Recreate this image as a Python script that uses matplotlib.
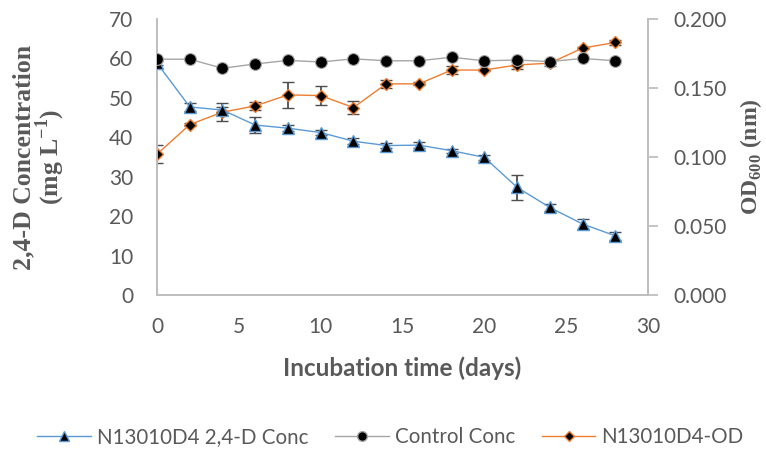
import numpy as np
import matplotlib.pyplot as plt

days = [0, 2, 4, 6, 8, 10, 12, 14, 16, 18, 20, 22, 24, 26, 28]
conc = [58.8, 47.7, 46.9, 43.1, 42.3, 41.2, 39.0, 37.9, 38.0, 36.6, 34.9, 27.3, 22.2, 18.0, 15.0]
conc_err = [0.5, 1.0, 0.8, 2.0, 0.8, 0.6, 0.7, 0.6, 0.7, 0.5, 0.6, 3.2, 0.9, 1.2, 1.0]
control = [59.8, 59.8, 57.5, 58.6, 59.5, 59.1, 59.9, 59.4, 59.4, 60.3, 59.4, 59.6, 59.2, 60.0, 59.4]
od = [0.102, 0.1235, 0.1325, 0.137, 0.145, 0.1445, 0.1358, 0.153, 0.153, 0.163, 0.163, 0.1667, 0.168, 0.1789, 0.183]
od_err = [0.0064, 0.001, 0.0065, 0.003, 0.0093, 0.0066, 0.005, 0.003, 0.001, 0.003, 0.001, 0.003, 0.002, 0.001, 0.002]

plt.rcParams['font.family'] = ['Lato', 'DejaVu Sans']
plt.rcParams['mathtext.fontset'] = 'custom'
plt.rcParams['mathtext.rm'] = 'Liberation Serif:bold'
plt.rcParams['mathtext.bf'] = 'Liberation Serif:bold'

grey_txt = '#595959'
spine_c = '#BFBFBF'
err_c = '#4D4D4D'

fig = plt.figure(figsize=(7.66, 4.58), dpi=100)
ax = fig.add_axes([0.205, 0.356, 0.641, 0.6025])
ax2 = ax.twinx()

ax.errorbar(days, conc, yerr=conc_err, color='#5B9BD5', lw=1, marker='^', ms=8,
            mfc='black', mec='#5B9BD5', mew=1, ecolor=err_c, elinewidth=1.3,
            capsize=4, capthick=1.3, zorder=3)
l1, = ax.plot([], [], color='#5B9BD5', lw=1, marker='^', ms=7, mfc='black', mec='#5B9BD5')
ax.plot(days, control, color='#A5A5A5', lw=1, marker='o', ms=8.5, mfc='black',
        mec='#A5A5A5', mew=0.8, zorder=4)
l2, = ax.plot([], [], color='#A5A5A5', lw=1, marker='o', ms=7, mfc='black', mec='#A5A5A5')
ax2.errorbar(days, od, yerr=od_err, color='#ED7D31', lw=1, marker='D', ms=6.5,
             mfc='black', mec='#ED7D31', mew=1, ecolor=err_c, elinewidth=1.3,
             capsize=4, capthick=1.3, zorder=3)
l3, = ax2.plot([], [], color='#ED7D31', lw=1, marker='D', ms=5.5, mfc='black', mec='#ED7D31')

ax.set_xlim(0, 30)
ax.set_ylim(0, 70)
ax2.set_ylim(0, 0.2)
ax.set_xticks(np.arange(0, 31, 5))
ax.set_yticks(np.arange(0, 71, 10))
ax2.set_yticks(np.arange(0, 0.201, 0.05))
ax2.set_yticklabels(['%.3f' % v for v in np.arange(0, 0.201, 0.05)])

for a in (ax, ax2):
    a.spines['top'].set_visible(False)
    for s in ('left', 'right', 'bottom'):
        a.spines[s].set_color(spine_c)
        a.spines[s].set_linewidth(1.3)
    a.tick_params(labelsize=15, colors=grey_txt, length=0)
ax.tick_params(axis='y', pad=17)
ax.tick_params(axis='x', pad=16)
ax2.tick_params(axis='y', length=7, color=spine_c, width=1.3, pad=11)
ax.set_zorder(ax2.get_zorder() + 1)
ax.patch.set_visible(False)

ax.set_xlabel('Incubation time (days)', fontsize=17.5, fontweight='bold', color=grey_txt, labelpad=14)
ax.set_ylabel('2,4-D Concentration\n(mg L$^{-1}$)', fontsize=18.5, fontweight='bold',
              family='Liberation Serif', color=grey_txt, linespacing=0.95)
ax.yaxis.set_label_coords(-0.183, 0.5)
ax2.set_ylabel('OD$_{600}$ (nm)', fontsize=17, fontweight='bold',
               family='Liberation Serif', color=grey_txt)
ax2.yaxis.set_label_coords(1.183, 0.5)

fig.legend([l1, l2, l3], ['N13010D4 2,4-D Conc', 'Control Conc', 'N13010D4-OD'],
           loc='center', bbox_to_anchor=(0.51, 0.046), ncol=3, frameon=False,
           fontsize=14.8, labelcolor=grey_txt, handlelength=2.6, handletextpad=0.3,
           columnspacing=1.3)

fig.savefig('out.png', dpi=100)
